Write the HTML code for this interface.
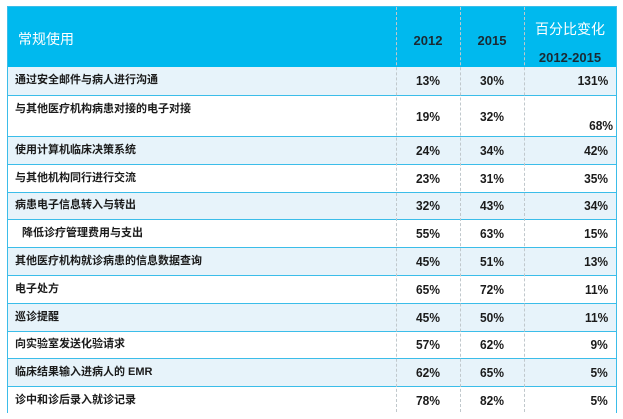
<!DOCTYPE html>
<html><head><meta charset="utf-8">
<style>
body{margin:0;width:623px;height:419px;background:#fff;overflow:hidden;font-family:"Liberation Sans","Noto Sans CJK SC",sans-serif;}
#t{position:absolute;left:7px;top:6px;width:610px;height:407px;border:1px solid #3bbde9;box-sizing:border-box;}
.hdr{position:absolute;left:0;top:0;width:608px;height:60px;background:#00b9ee;}
.c{position:absolute;box-sizing:border-box;line-height:16px;}
.vl{position:absolute;top:0;height:405px;border-left:1px dashed #c0c8cc;}
.row{position:absolute;left:0;width:608px;border-top:1px solid #3bbde9;box-sizing:border-box;}
.lab{position:absolute;left:7px;font-size:11px;line-height:14px;font-weight:bold;color:#1b1b1b;}
.num{position:absolute;font-size:13px;line-height:16px;font-weight:bold;color:#1b1b1b;text-align:center;width:64px;transform:scaleX(0.92);}
.pct{position:absolute;right:8px;font-size:13px;line-height:16px;font-weight:bold;color:#1b1b1b;text-align:right;transform:scaleX(0.92);transform-origin:right center;}
</style></head><body>
<div id="t">
 <div class="hdr">
  <div class="c" style="left:10px;top:24px;font-size:14px;color:#fff;">常规使用</div>
  <div class="c" style="left:388px;width:64px;top:26px;text-align:center;font-size:13px;font-weight:bold;color:#1b2a33;">2012</div>
  <div class="c" style="left:452px;width:64px;top:26px;text-align:center;font-size:13px;font-weight:bold;color:#1b2a33;">2015</div>
  <div class="c" style="left:516px;width:92px;top:14px;text-align:center;font-size:14px;color:#fff;">百分比变化</div>
  <div class="c" style="left:516px;width:92px;top:43px;text-align:center;font-size:13px;font-weight:bold;color:#1b2a33;">2012-2015</div>
 </div>
 <div id="rows"></div>
 <div class="vl" style="left:388px"></div>
 <div class="vl" style="left:452px"></div>
 <div class="vl" style="left:516px"></div>
</div>
<script>
const labels=["通过安全邮件与病人进行沟通","与其他医疗机构病患对接的电子对接","使用计算机临床决策系统","与其他机构同行进行交流","病患电子信息转入与转出","降低诊疗管理费用与支出","其他医疗机构就诊病患的信息数据查询","电子处方","巡诊提醒","向实验室发送化验请求","临床结果输入进病人的 EMR","诊中和诊后录入就诊记录"];
const v2012=[13,19,24,23,32,55,45,65,45,57,62,78];
const v2015=[30,32,34,31,43,63,51,72,50,62,65,82];
const change=[131,68,42,35,34,15,13,11,11,9,5,5];
const rows=document.getElementById('rows');
let y=60;
for(let i=0;i<labels.length;i++){
  const h=i===1?41:(i===0?28:27.8);
  const r=document.createElement('div');
  r.className='row';
  
  
  r.style.top=y+'px';r.style.height=h+'px';
  r.style.background=(i%2===0)?'#e7f3fa':'#fff';
  if(i===0)r.style.borderTop='none';
  const mid=h/2-8;
  const l=document.createElement('div');
  l.className='lab';
  
  
  l.textContent=labels[i];
  l.style.top=(i===1?6:mid)+'px';
  if(i===5)l.style.left='14px';
  r.appendChild(l);
  const a=document.createElement('div');
  a.className='num';
  
  
  a.textContent=v2012[i]+'%';a.style.left='388px';a.style.top=mid+'px';
  r.appendChild(a);
  const b=document.createElement('div');
  b.className='num';
  
  
  b.textContent=v2015[i]+'%';b.style.left='452px';b.style.top=mid+'px';
  r.appendChild(b);
  const c=document.createElement('div');
  c.className='pct';
  
  
  c.textContent=change[i]+'%';c.style.top=(i===1?h-19:mid)+'px';
  if(i===1)c.style.right='3px';
  r.appendChild(c);
  rows.appendChild(r);
  y+=h;
}
</script>
</body></html>
